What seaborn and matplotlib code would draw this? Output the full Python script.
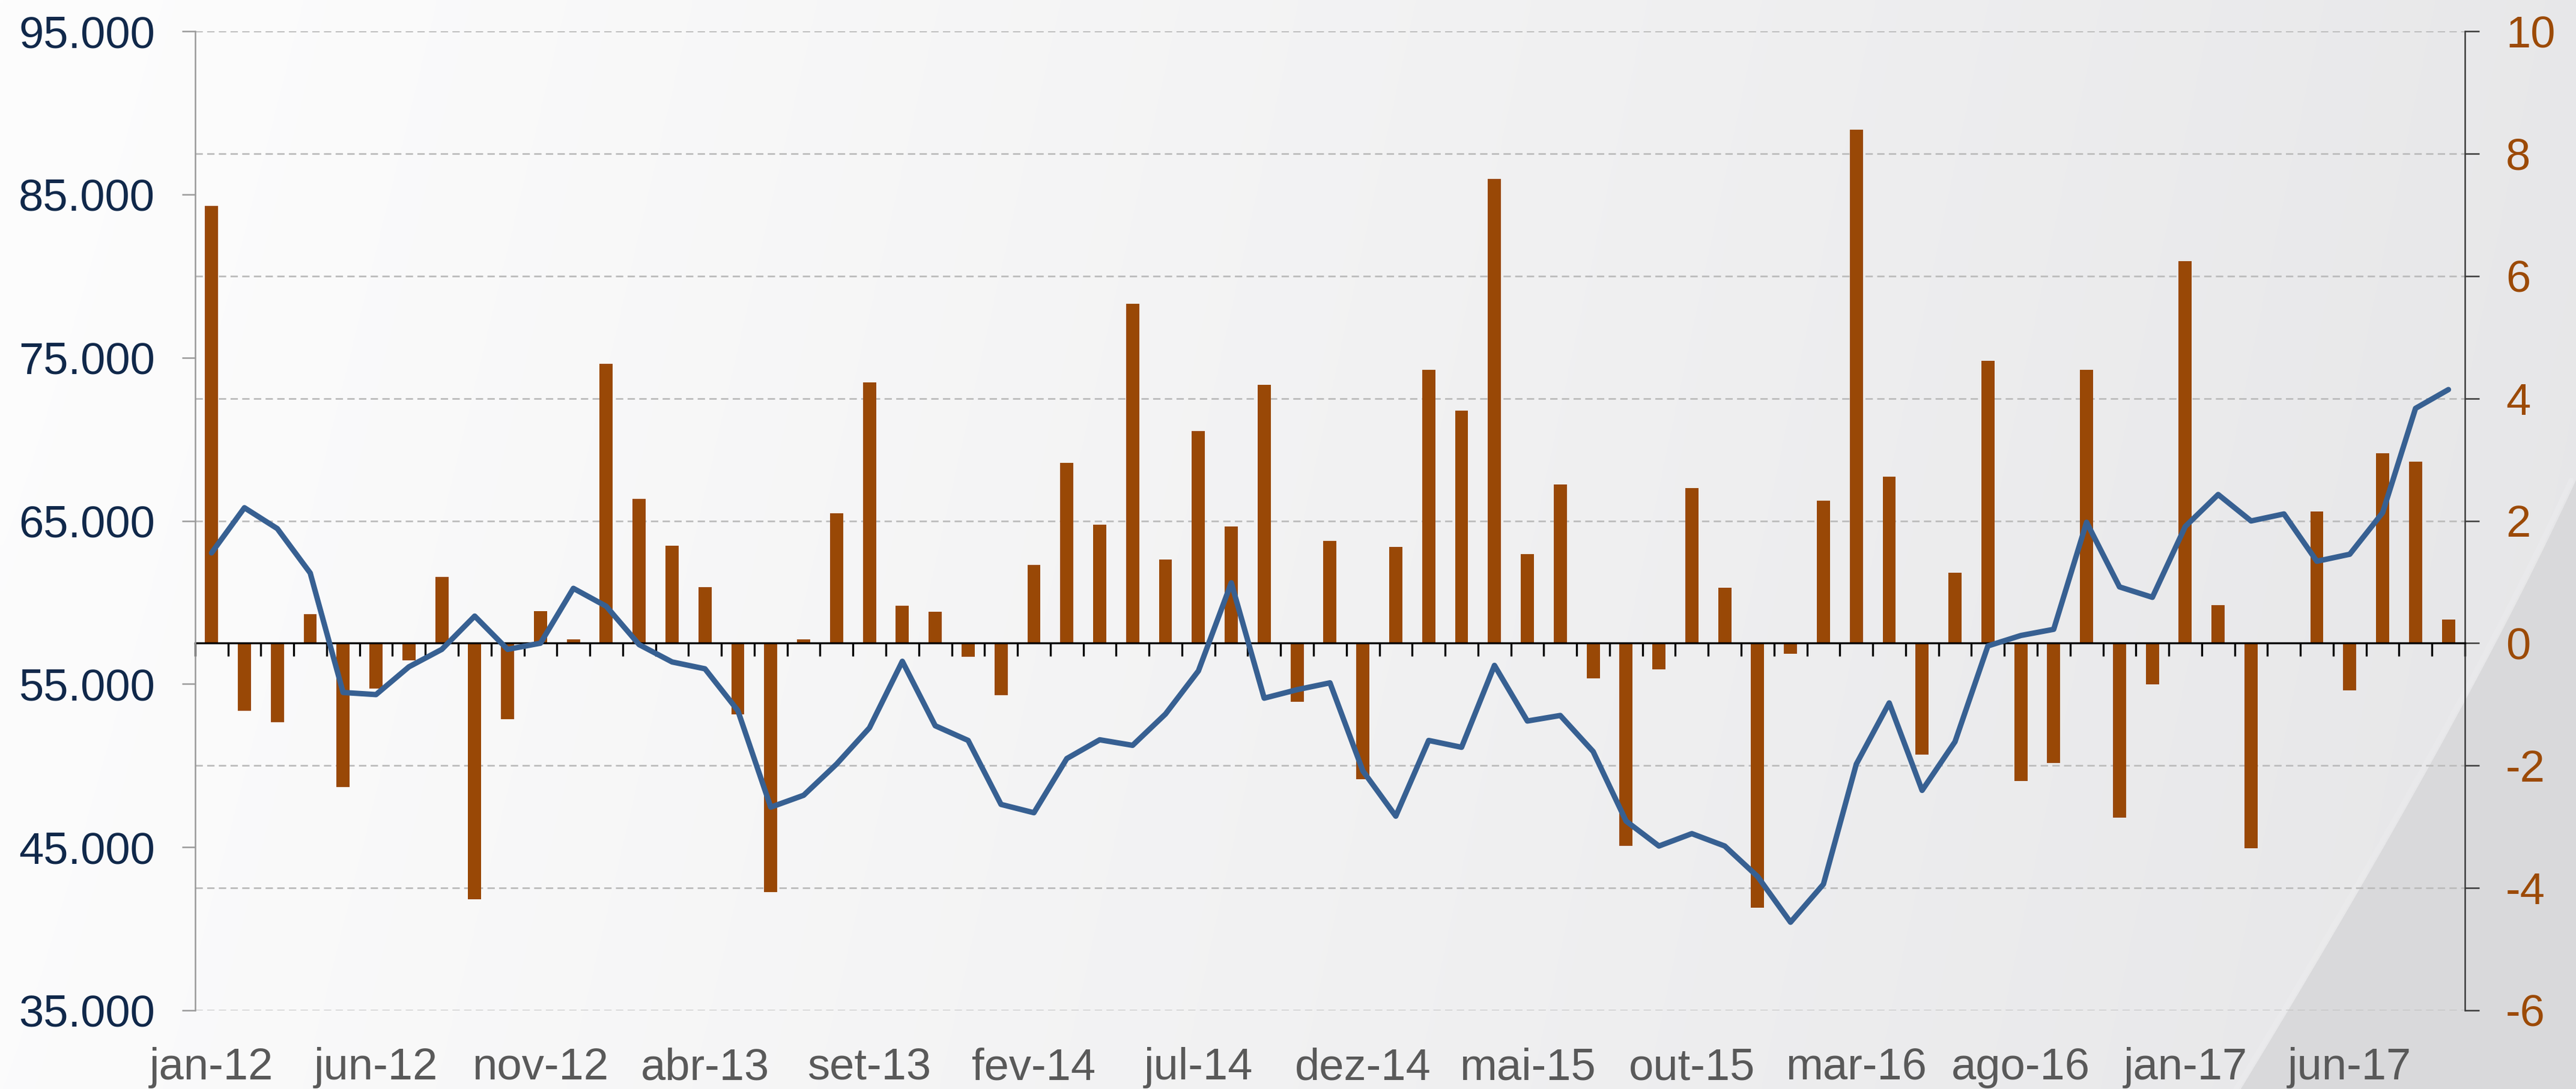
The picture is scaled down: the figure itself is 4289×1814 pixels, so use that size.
import numpy as np
import pandas as pd
import matplotlib
matplotlib.use("Agg")
import matplotlib.pyplot as plt
from matplotlib.patches import Polygon
import seaborn as sns

# ---------------- data ----------------
month_abbr = ["jan", "fev", "mar", "abr", "mai", "jun", "jul", "ago", "set", "out", "nov", "dez"]
years = ["12", "13", "14", "15", "16", "17"]
months = [f"{m}-{y}" for y in years for m in month_abbr][:69]   # jan-12 .. set-17

# monthly change (right axis, bars)
bar_values = [7.15, -1.10, -1.29, 0.47, -2.35, -0.74, -0.28, 1.08, -4.19, -1.24,
              0.52, 0.06, 4.57, 2.36, 1.59, 0.92, -1.16, -4.07, 0.06, 2.12,
              4.26, 0.61, 0.51, -0.22, -0.85, 1.28, 2.95, 1.94, 5.55, 1.37,
              3.47, 1.91, 4.22, -0.96, 1.67, -2.22, 1.57, 4.47, 3.80, 7.59,
              1.46, 2.59, -0.58, -3.31, -0.43, 2.53, 0.91, -4.32, -0.17, 2.33,
              8.39, 2.72, -1.82, 1.15, 4.61, -2.25, -1.96, 4.47, -2.85, -0.67,
              6.24, 0.62, -3.35, -0.02, 2.15, -0.77, 3.10, 2.97, 0.39]

# level (left axis, line)
line_values = [63030, 65800, 64520, 61800, 54480, 54350, 56050, 57120, 59160, 57120,
               57500, 60860, 59760, 57410, 56350, 55930, 53370, 47450, 48180, 50090,
               52310, 56390, 52440, 51540, 47620, 47110, 50430, 51580, 51240, 53160,
               55800, 61200, 54130, 54650, 55070, 49670, 46900, 51540, 51120, 56140,
               52730, 53070, 50860, 46600, 45070, 45830, 45070, 43200, 40400, 42730,
               50090, 53840, 48480, 51460, 57330, 57970, 58350, 64910, 60950, 60310,
               64650, 66610, 64990, 65420, 62520, 62950, 65500, 71890, 73040]

left_ticks = [35000, 45000, 55000, 65000, 75000, 85000, 95000]
right_ticks = [-6, -4, -2, 0, 2, 4, 6, 8, 10]
label_every = 5

assert len(months) == len(bar_values) == len(line_values)

df = pd.DataFrame({"mes": months, "variacao": bar_values,
                   "nivel": line_values, "pos": np.arange(len(months))})

# ---------------- style ----------------
BAR = "#994806"
LINE = "#376092"
LEFT_TXT = "#10284a"
RIGHT_TXT = "#9c4a06"
X_TXT = "#595959"
FS = 53.5

sns.set_theme(style="white")
plt.rcParams["font.family"] = ["Liberation Sans", "DejaVu Sans"]

W, H = 4289, 1814
fig = plt.figure(figsize=(W / 100, H / 100), dpi=100)

# background gradient + decorative wedge
bg = fig.add_axes([0, 0, 1, 1], zorder=-10)
bg.set_xlim(0, W)
bg.set_ylim(H, 0)
bg.axis("off")
xs = np.linspace(0, 1, 400)
ys = np.linspace(0, 1, 200)
X, Y = np.meshgrid(xs, ys)
t = np.clip(0.85 * X ** 1.1 + 0.08 * Y, 0, 1)
c0 = np.array([0xfd, 0xfd, 0xfd]) / 255
c1 = np.array([0xe4, 0xe4, 0xe6]) / 255
img = c0[None, None, :] * (1 - t[..., None]) + c1[None, None, :] * t[..., None]
bg.imshow(img, extent=[0, W, H, 0], aspect="auto", interpolation="bilinear")
# curved wedge edge
tt = np.linspace(0, 1, 50)
p0, p1, p2 = np.array([3731, 1814]), np.array([4110, 1190]), np.array([4289, 800])
curve = ((1 - tt) ** 2)[:, None] * p0 + (2 * (1 - tt) * tt)[:, None] * p1 + (tt ** 2)[:, None] * p2
wedge = np.vstack([curve, [[W, H]]])
bg.add_patch(Polygon(wedge, closed=True, facecolor="#d9d9db", edgecolor="none"))
bg.plot(curve[:, 0] - 8, curve[:, 1], color="#ececee", lw=6, alpha=0.6)

# main axes (bars, right scale)
ax = fig.add_axes([324.8 / W, 1 - 1683 / H, (4104 - 324.8) / W, (1683 - 52) / H])
ax.set_facecolor("none")
sns.barplot(data=df, x="mes", y="variacao", color=BAR, saturation=1,
            width=0.40, ax=ax, zorder=2, linewidth=0)
ax.set_ylim(-6, 10)
ax.set_xlim(-0.5, len(months) - 0.5)

# twin axes (line, left scale)
ax2 = ax.twinx()
sns.lineplot(data=df, x="pos", y="nivel", color=LINE, linewidth=6.5, ax=ax2,
             solid_capstyle="round", solid_joinstyle="round")
ax2.set_ylim(35000, 95000)
ax.set_xlim(-0.5, len(months) - 0.5)

# swap sides: bars scale on right, line scale on left
ax.yaxis.tick_right()
ax2.yaxis.tick_left()
ax.set_yticks(right_ticks)
ax.set_yticklabels([str(v) for v in right_ticks])
ax2.set_yticks(left_ticks)
ax2.set_yticklabels([f"{v:,.0f}".replace(",", ".") for v in left_ticks])

for a in (ax, ax2):
    a.set_xlabel("")
    a.set_ylabel("")

# grid (dashed, on right scale)
ax.set_axisbelow(True)
ax.yaxis.grid(True, color="#bcbcbc", lw=2.0, linestyle=(0, (4.4, 2.6)))
ax.xaxis.grid(False)
ax2.grid(False)

# spines
for s in ("left", "top"):
    ax.spines[s].set_visible(False)
ax.spines["right"].set_visible(True)
ax.spines["right"].set_color("#3a3a3a")
ax.spines["right"].set_linewidth(1.8)
ax.spines["bottom"].set_position(("data", 0))
ax.spines["bottom"].set_color("black")
ax.spines["bottom"].set_linewidth(2.4)
ax.spines["bottom"].set_zorder(3)
for s in ("right", "top", "bottom"):
    ax2.spines[s].set_visible(False)
ax2.spines["left"].set_visible(True)
ax2.spines["left"].set_color("#9a9a9a")
ax2.spines["left"].set_linewidth(1.8)

# x ticks: category boundary ticks on the zero line, labels at bottom
major_pos = list(range(0, len(months), label_every))
ax.set_xticks(major_pos)
ax.set_xticklabels([months[i] for i in major_pos])
ax.set_xticks(np.arange(-0.5, len(months), 1.0), minor=True)
ax.tick_params(axis="x", which="major", length=0, labelbottom=False)
ax.tick_params(axis="x", which="minor", direction="out", length=16, width=2.4,
               color="black", bottom=True, labelbottom=False)
ax2.xaxis.set_visible(True)
ax2.tick_params(axis="x", which="both", length=0, bottom=False, labelbottom=True,
                labelsize=FS, labelcolor=X_TXT, pad=44)

# y ticks
ax.tick_params(axis="y", which="major", direction="out", length=17, width=1.8,
               color="#3a3a3a", labelsize=FS, labelcolor=RIGHT_TXT, pad=32,
               right=True, left=False, labelright=True, labelleft=False)
ax2.tick_params(axis="y", which="major", direction="out", length=16, width=1.8,
                color="#9a9a9a", labelsize=FS, labelcolor=LEFT_TXT, pad=32,
                left=True, right=False, labelleft=True, labelright=False)

fig.savefig("out.png", dpi=100)
